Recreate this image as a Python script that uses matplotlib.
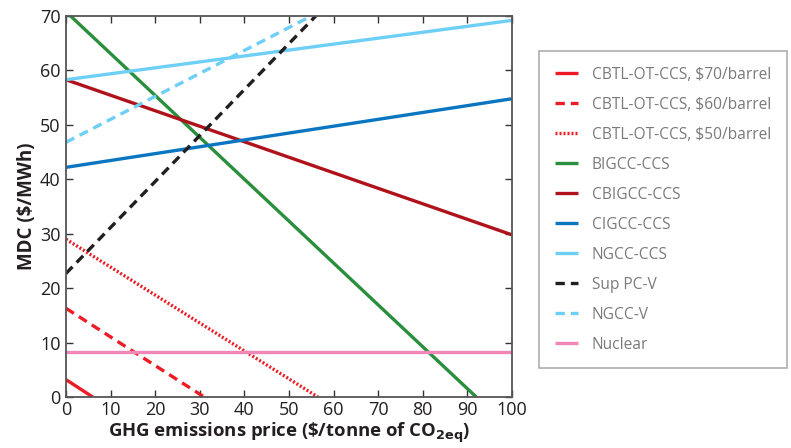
import numpy as np
import matplotlib.pyplot as plt

plt.rcParams['font.family'] = ['Open Sans', 'DejaVu Sans']

# marginal damage cost lines: (MDC at 0, price where line ends, MDC at that price)
names = ['CBTL-OT-CCS, $70/barrel', 'CBTL-OT-CCS, $60/barrel', 'CBTL-OT-CCS, $50/barrel',
         'BIGCC-CCS', 'CBIGCC-CCS', 'CIGCC-CCS', 'NGCC-CCS', 'Sup PC-V', 'NGCC-V', 'Nuclear']
x_start = [0, 0, 0, 0, 0, 0, 0, 0, 0, 0]
y_start = [3.2, 16.3, 29.0, 70.8, 58.3, 42.2, 58.3, 22.7, 46.8, 8.3]
x_end = [6.0, 31.0, 56.5, 92.0, 100, 100, 100, 56.0, 55.0, 100]
y_end = [0, 0, 0, 0, 29.8, 54.8, 69.2, 70.0, 70.0, 8.3]

colors = ['#ed1c24', '#ed1c24', '#ed1c24', '#2a8f3c', '#b0121b', '#0a75c0',
          '#6dcff6', '#231f20', '#6dcff6', '#f187b6']
dash = (0, (2.8, 1.8))
styles = ['-', dash, (0, (0.6, 0.6)), '-', '-', '-', '-', dash, dash, '-']

fig = plt.figure(figsize=(7.91, 4.48), dpi=100)
ax = fig.add_axes([0.0834, 0.1138, 0.5638, 0.8504])

for i in range(len(names)):
    ax.plot([x_start[i], x_end[i]], [y_start[i], y_end[i]], color=colors[i],
            linestyle=styles[i], linewidth=2.4, label=names[i],
            solid_capstyle='butt', dash_capstyle='butt')

ax.set_xlim(0, 100)
ax.set_ylim(0, 70)
ax.set_xticks(np.arange(0, 101, 10))
ax.set_yticks(np.arange(0, 71, 10))
ax.tick_params(axis='both', direction='in', length=5, width=1, color='#333333',
               labelsize=13, labelcolor='#231f20', top=True, right=True)
ax.tick_params(axis='x', pad=3)
ax.tick_params(axis='y', pad=4)
for s in ax.spines.values():
    s.set_color('#555555')
    s.set_linewidth(1.3)

ax.set_xlabel(r'GHG emissions price (\$/tonne of CO$_\mathbf{2eq}$)', fontsize=13.3,
              fontweight='bold', color='#231f20', labelpad=1)
ax.set_ylabel('MDC ($/MWh)', fontsize=13.5, fontweight='bold', color='#231f20', labelpad=2)

leg = fig.legend(loc='upper left', bbox_to_anchor=(539 / 791, 1 - 51 / 448),
                 frameon=True, fancybox=False, fontsize=11.2, handlelength=1.5,
                 handletextpad=0.9, labelspacing=0.9, borderpad=1.0,
                 borderaxespad=0)
leg.get_frame().set_edgecolor('#999999')
leg.get_frame().set_linewidth(1.2)
for t in leg.get_texts():
    t.set_color('#7a7a7a')

fig.savefig('out.png', dpi=100)
